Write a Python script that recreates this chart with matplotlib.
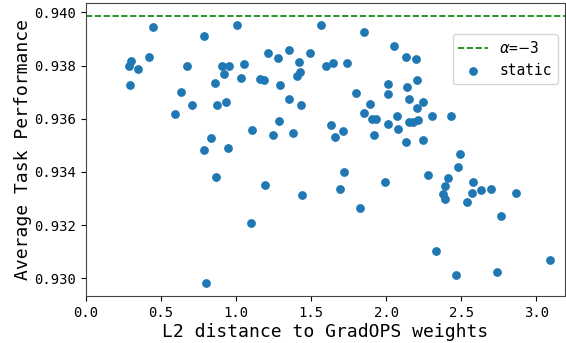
import matplotlib
matplotlib.use("Agg")
import matplotlib.pyplot as plt

# L2 distance to GradOPS weights (static runs) and their average task performance
dist = [0.289, 0.302, 0.295, 0.349, 0.418, 0.447, 0.785, 1.009, 0.675, 0.631,
        0.707, 0.595, 0.862, 0.907, 0.951, 0.918, 1.051, 1.033, 0.873, 0.931,
        0.785, 0.833, 0.949, 1.107, 1.160, 1.187, 1.209, 1.282, 1.291, 1.351,
        1.353, 1.285, 1.245, 1.382, 1.422, 1.427, 1.405, 1.433, 1.491, 1.567,
        0.869, 1.193, 1.438, 1.102, 0.798, 1.851, 1.598, 1.647, 1.738, 2.055,
        2.129, 2.198, 2.013, 2.207, 2.135, 2.009, 1.800, 2.153, 1.891, 2.245,
        2.205, 1.849, 1.907, 1.935, 2.071, 2.015, 2.149, 2.178, 2.213, 2.307,
        2.433, 1.635, 1.713, 1.660, 1.920, 2.078, 2.131, 2.247, 2.493, 2.478,
        1.718, 1.693, 1.989, 1.827, 2.275, 2.413, 2.391, 2.380, 2.393, 2.575,
        2.573, 2.633, 2.695, 2.867, 2.538, 2.765, 2.331, 2.465, 2.738, 3.093]
perf = [0.93797, 0.93817, 0.93727, 0.93787, 0.93833, 0.93944, 0.93913, 0.93953, 0.93797, 0.93700,
        0.93650, 0.93617, 0.93736, 0.93800, 0.93797, 0.93770, 0.93807, 0.93753, 0.93653, 0.93664,
        0.93484, 0.93527, 0.93490, 0.93557, 0.93750, 0.93747, 0.93847, 0.93827, 0.93727, 0.93860,
        0.93676, 0.93593, 0.93537, 0.93547, 0.93813, 0.93777, 0.93759, 0.93653, 0.93847, 0.93954,
        0.93380, 0.93350, 0.93313, 0.93207, 0.92983, 0.93927, 0.93800, 0.93811, 0.93808, 0.93873,
        0.93831, 0.93823, 0.93731, 0.93747, 0.93720, 0.93693, 0.93698, 0.93676, 0.93656, 0.93664,
        0.93640, 0.93623, 0.93600, 0.93600, 0.93610, 0.93582, 0.93589, 0.93589, 0.93597, 0.93610,
        0.93610, 0.93576, 0.93554, 0.93533, 0.93537, 0.93561, 0.93513, 0.93521, 0.93467, 0.93420,
        0.93400, 0.93336, 0.93361, 0.93263, 0.93390, 0.93376, 0.93347, 0.93317, 0.93297, 0.93362,
        0.93320, 0.93333, 0.93336, 0.93320, 0.93287, 0.93233, 0.93104, 0.93011, 0.93023, 0.93067]
baseline = 0.93985  # alpha = -3

plt.rcParams['font.family'] = ['DejaVu Sans Mono', 'DejaVu Sans']

fig, ax = plt.subplots(figsize=(5.66, 3.43), dpi=100)
fig.subplots_adjust(left=0.152, right=0.998, top=0.991, bottom=0.137)

ax.axhline(baseline, color="green", linestyle="--", linewidth=1.2, label=r"$\alpha$=$-$3")
ax.scatter(dist, perf, s=28, color="#1f77b4", label="static")

ax.set_xlim(0, 3.19)
ax.set_xticks([0.0, 0.5, 1.0, 1.5, 2.0, 2.5, 3.0])
ax.set_yticks([0.930, 0.932, 0.934, 0.936, 0.938, 0.940])
ax.tick_params(labelsize=10)
for sp in ax.spines.values():
    sp.set_color("#444444")

ax.set_xlabel("L2 distance to GradOPS weights", fontsize=13, labelpad=2)
ax.set_ylabel("Average Task Performance", fontsize=13, labelpad=2)
ax.legend(loc="upper right", bbox_to_anchor=(1.0, 0.92), fontsize=10.5)

plt.savefig("out.png")
